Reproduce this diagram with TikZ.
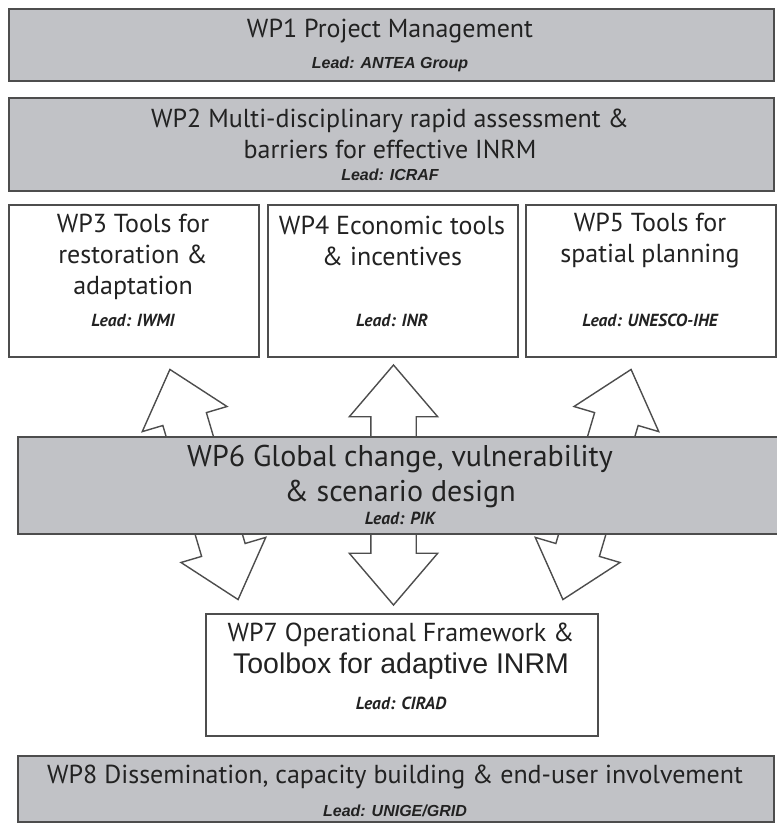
\documentclass[tikz,border=0pt]{standalone}
\usepackage{fontspec}
\setmainfont{PT Sans}
\newfontfamily\arialfont{Liberation Sans}
\usetikzlibrary{shapes.arrows}
\definecolor{wpgray}{HTML}{C1C2C6}
\definecolor{wpline}{HTML}{4D4D4D}
\definecolor{wptext}{HTML}{222222}
\tikzset{
  wpbox/.style={draw=wpline, line width=2pt, fill=wpgray, inner sep=0pt, anchor=north west},
  wpwhite/.style={wpbox, fill=white},
  title/.style={text=wptext, font=\fontsize{26}{31}\selectfont, align=center, inner sep=0pt},
  bigtitle/.style={text=wptext, font=\fontsize{30}{35}\selectfont, align=center, inner sep=0pt},
  lead/.style={text=wptext, font=\fontsize{17.5}{19}\selectfont\bfseries\itshape, inner sep=0pt},
  leadarial/.style={text=wptext, font=\arialfont\fontsize{16}{18}\selectfont\bfseries\itshape, inner sep=0pt},
  blockarrow/.style={double arrow, draw=wpline, fill=white, line width=1.4pt,
    minimum height=240pt, double arrow head extend=21.5pt, double arrow tip angle=81,
    inner xsep=0pt, inner ysep=22pt}
}
\begin{document}
\begin{tikzpicture}[x=1pt, y=-1pt]
  \useasboundingbox (0,0) rectangle (776,824);
  % top work packages
  \node[wpbox, minimum width=765pt, minimum height=72pt] (wp1) at (8,8) {};
  \node[title] (wp1t) at (390,31) {WP1 Project Management};
  \node[leadarial] (wp1l) at (390,64) {Lead: ANTEA Group};
  \node[wpbox, minimum width=765pt, minimum height=93pt] (wp2) at (8,97) {};
  \node[title] (wp2t) at (390,134) {WP2 Multi-disciplinary rapid assessment \&\\barriers for effective INRM};
  \node[leadarial] (wp2l) at (390,175) {Lead: ICRAF};
  % tools
  \node[wpwhite, minimum width=250pt, minimum height=152pt] (wp3) at (8,204) {};
  \node[wpwhite, minimum width=250pt, minimum height=152pt] (wp4) at (267,204) {};
  \node[wpwhite, minimum width=250pt, minimum height=152pt] (wp5) at (525,204) {};
  \node[title] (wp3t) at (133,257) {WP3 Tools for\\restoration \&\\adaptation};
  \node[title] (wp4t) at (392,241) {WP4 Economic tools\\\& incentives};
  \node[title] (wp5t) at (650,241) {WP5 Tools for\\spatial planning};
  \node[lead] (wp3l) at (133,320) {Lead: IWMI};
  \node[lead] (wp4l) at (392,320) {Lead: INR};
  \node[lead] (wp5l) at (650,320) {Lead: UNESCO-IHE};
  % links through WP6
  \node[blockarrow, rotate=106.5] (arrL) at (204,484.5) {};
  \node[blockarrow, rotate=90] (arrC) at (393.5,485) {};
  \node[blockarrow, rotate=73.5] (arrR) at (597,484.5) {};
  \node[wpbox, minimum width=763pt, minimum height=97pt] (wp6) at (17,436) {};
  \node[bigtitle] (wp6t) at (400,476) {WP6 Global change, vulnerability\\\& scenario design};
  \node[lead] (wp6l) at (400,518) {Lead: PIK};
  % framework
  \node[wpwhite, minimum width=392pt, minimum height=122pt] (wp7) at (205,613) {};
  \node[title] (wp7t) at (401,635) {WP7 Operational Framework \&};
  \node[text=wptext, font=\arialfont\fontsize{28.5}{33}\selectfont, inner sep=0pt] (wp7u) at (401,666) {Toolbox for adaptive INRM};
  \node[lead] (wp7l) at (401,703) {Lead: CIRAD};
  % dissemination
  \node[wpbox, minimum width=756pt, minimum height=66pt] (wp8) at (17,755) {};
  \node[title] (wp8t) at (395,777) {WP8 Dissemination, capacity building \& end-user involvement};
  \node[leadarial] (wp8l) at (395,811) {Lead: UNIGE/GRID};
\end{tikzpicture}
\end{document}
